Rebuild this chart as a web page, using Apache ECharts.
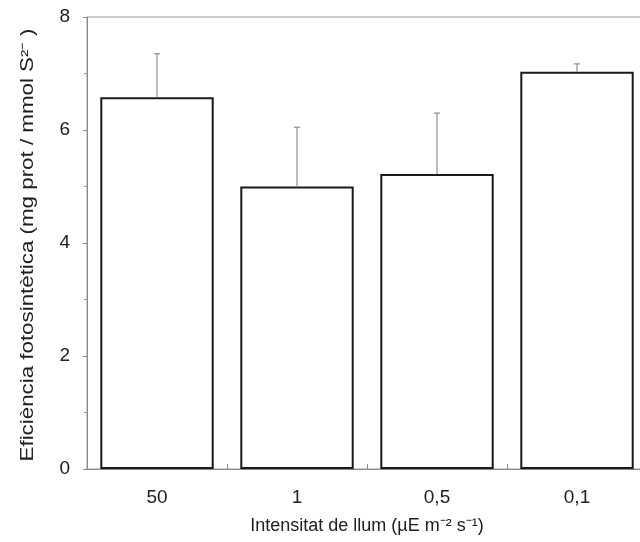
<!DOCTYPE html>
<html>
<head>
<meta charset="utf-8">
<script src="https://cdn.jsdelivr.net/npm/echarts@6/dist/echarts.min.js"></script>
<style>
  html, body { margin: 0; padding: 0; background: #fff; }
  #chart { width: 640px; height: 542px; }
</style>
</head>
<body>
<div id="chart"></div>
<script>
// Light intensity treatments (µE m-2 s-1)
const categories = ['50', '1', '0,5', '0,1'];
// Mean photosynthetic efficiency per treatment
const efficiency = [6.58, 5.0, 5.22, 7.03];
// Upper error (standard deviation) per treatment
const errorUp = [0.77, 1.05, 1.08, 0.14];

const yTicks = { min: 0, max: 8, step: 2 };

const textColor = '#202020';
const fontFamily = '"Liberation Sans", Arial, Helvetica, sans-serif';

const chart = echarts.init(document.getElementById('chart'), null, { renderer: 'canvas' });

const errorData = categories.map((c, i) => [i, efficiency[i], efficiency[i] + errorUp[i]]);

chart.setOption({
  animation: false,
  backgroundColor: '#ffffff',
  grid: {
    left: 87, width: 560, top: 17, height: 452,
    outerBoundsMode: 'none',
    containLabel: false,
    show: true, borderColor: '#9a9a9a', borderWidth: 1
  },
  xAxis: {
    type: 'category',
    data: categories,
    name: 'Intensitat de llum (µE m\u207B\u00B2 s\u207B\u00B9)',
    nameLocation: 'middle',
    nameGap: 48,
    nameTextStyle: { color: textColor, fontSize: 18, fontFamily },
    axisLine: { lineStyle: { color: '#8a8a8a', width: 1 } },
    axisTick: { show: true, inside: true, length: 5, lineStyle: { color: '#8a8a8a' } },
    axisLabel: { color: textColor, fontSize: 19, fontFamily, margin: 19 },
    splitLine: { show: false }
  },
  yAxis: {
    type: 'value',
    min: yTicks.min, max: yTicks.max, interval: yTicks.step,
    axisLine: { show: true, lineStyle: { color: '#8a8a8a', width: 1 } },
    axisTick: { show: true, length: 4, lineStyle: { color: '#8a8a8a' } },
    minorTick: { show: true, splitNumber: 2, length: 3, lineStyle: { color: '#9a9a9a' } },
    axisLabel: { color: textColor, fontSize: 19, fontFamily, margin: 17 },
    splitLine: { show: false }
  },
  // Y-axis title, drawn as rotated text stretched along its baseline
  graphic: [
    {
      type: 'text',
      x: 28, y: 245,
      rotation: Math.PI / 2,
      scaleX: 1.24,
      style: {
        text: 'Eficiència fotosintètica (mg prot / mmol S\u00B2\u207B )',
        fill: textColor,
        font: '18px ' + fontFamily,
        textAlign: 'center',
        textVerticalAlign: 'middle'
      }
    }
  ],
  series: [
    {
      type: 'bar',
      data: efficiency,
      barCategoryGap: '19%',
      itemStyle: { color: '#ffffff', borderColor: '#1a1a1a', borderWidth: 2 },
      z: 2
    },
    {
      type: 'custom',
      data: errorData,
      encode: { x: 0, y: [1, 2] },
      z: 3,
      renderItem: function (params, api) {
        const base = api.coord([api.value(0), api.value(1)]);
        const top = api.coord([api.value(0), api.value(2)]);
        const cap = 3;
        const style = { stroke: '#7a7a7a', lineWidth: 1 };
        return {
          type: 'group',
          children: [
            { type: 'line', shape: { x1: base[0], y1: base[1], x2: top[0], y2: top[1] }, style },
            { type: 'line', shape: { x1: top[0] - cap, y1: top[1], x2: top[0] + cap, y2: top[1] }, style }
          ]
        };
      }
    }
  ]
});
</script>
</body>
</html>
